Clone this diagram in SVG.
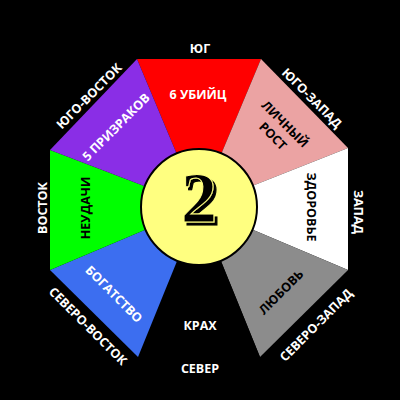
<svg xmlns="http://www.w3.org/2000/svg" width="400" height="400" viewBox="0 0 400 400">
<style>
.t{font-family:"Open Sans","Liberation Sans",sans-serif;font-weight:bold;font-size:12.5px;text-anchor:middle;dominant-baseline:central}
.w{fill:#ffffff}
.b{fill:#000000}
</style>
<defs>
<filter id="shadow" x="-30%" y="-30%" width="160%" height="160%">
<feOffset in="SourceAlpha" dx="3" dy="3" result="off"/>
<feFlood flood-color="#000"/>
<feComposite in2="off" operator="in" result="sh"/>
<feMerge><feMergeNode in="sh"/><feMergeNode in="SourceGraphic"/></feMerge>
</filter>
</defs>
<rect width="400" height="400" fill="#000"/>
<g id="sectors">
<g id="s-south"><polygon points="199,207 137,59 261,59" fill="#ff0000"/><text class="t w" x="198" y="94" font-size="13">6 УБИЙЦ</text></g>
<g id="s-southwest"><polygon points="199,207 261,59 348,148" fill="#eba3a3"/>
<g transform="translate(279,130) rotate(45)"><text class="t b" x="0" y="-8.5">ЛИЧНЫЙ</text><text class="t b" x="0" y="8.5">РОСТ</text></g></g>
<g id="s-west"><polygon points="199,207 348,148 348,270" fill="#ffffff"/><text class="t b" transform="translate(311,207) rotate(90)">ЗДОРОВЬЕ</text></g>
<g id="s-northwest"><polygon points="199,207 348,270 260,357" fill="#8c8c8c"/><text class="t b" transform="translate(281,292) rotate(-45)">ЛЮБОВЬ</text></g>
<g id="s-north"><polygon points="199,207 260,357 138,357" fill="#000000"/><text class="t w" x="200" y="325">КРАХ</text></g>
<g id="s-northeast"><polygon points="199,207 138,357 50,270" fill="#3c6ef0"/><text class="t w" transform="translate(114,294) rotate(45)">БОГАТСТВО</text></g>
<g id="s-east"><polygon points="199,207 50,270 50,150" fill="#00ff00"/><text class="t b" transform="translate(85,208) rotate(-90)">НЕУДАЧИ</text></g>
<g id="s-southeast"><polygon points="199,207 50,150 137,59" fill="#8a2ee6"/><text class="t w" transform="translate(116,127) rotate(-45)">5 ПРИЗРАКОВ</text></g>
</g>
<g id="center">
<circle cx="199" cy="207" r="58" fill="#ffff80" stroke="#000" stroke-width="2"/>
<text x="199" y="198" font-family="Liberation Serif, serif" font-weight="bold" font-size="72" text-anchor="middle" dominant-baseline="central" fill="#000" stroke="#ffff80" stroke-width="1" filter="url(#shadow)">2</text>
</g>
<g id="directions">
<text class="t w" x="200" y="48">ЮГ</text>
<text class="t w" transform="translate(89,96) rotate(-45)">ЮГО-ВОСТОК</text>
<text class="t w" transform="translate(312,98) rotate(45)">ЮГО-ЗАПАД</text>
<text class="t w" transform="translate(358,212) rotate(90)">ЗАПАД</text>
<text class="t w" transform="translate(316,325) rotate(-45)">СЕВЕРО-ЗАПАД</text>
<text class="t w" x="200" y="368">СЕВЕР</text>
<text class="t w" transform="translate(88,326) rotate(45)">СЕВЕРО-ВОСТОК</text>
<text class="t w" transform="translate(42,208) rotate(-90)">ВОСТОК</text>
</g>
</svg>
